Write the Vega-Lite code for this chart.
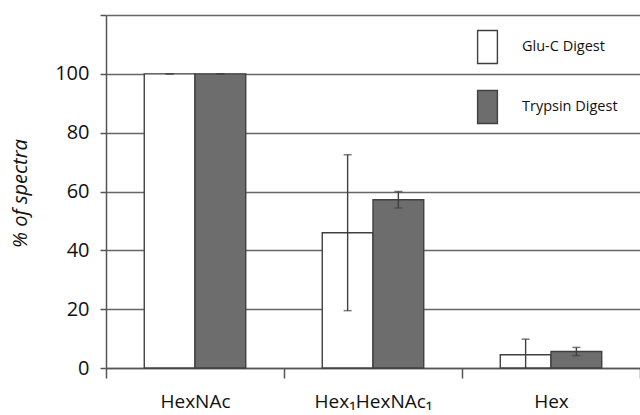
{
  "$schema": "https://vega.github.io/schema/vega-lite/v6.json",
  "autosize": {"type": "none"},
  "padding": {"left": 106, "top": 15, "right": 0, "bottom": 47},
  "width": 534,
  "height": 353,
  "background": "white",
  "data": {
    "values": [
      {"category": "HexNAc", "digest": "Glu-C Digest", "pct": 100, "lo": 100, "hi": 100},
      {"category": "HexNAc", "digest": "Trypsin Digest", "pct": 100, "lo": 100, "hi": 100},
      {"category": "Hex₁HexNAc₁", "digest": "Glu-C Digest", "pct": 46, "lo": 19.5, "hi": 72.5},
      {"category": "Hex₁HexNAc₁", "digest": "Trypsin Digest", "pct": 57.2, "lo": 54.4, "hi": 60},
      {"category": "Hex", "digest": "Glu-C Digest", "pct": 4.5, "lo": -0.8, "hi": 9.8},
      {"category": "Hex", "digest": "Trypsin Digest", "pct": 5.6, "lo": 4.2, "hi": 7}
    ]
  },
  "encoding": {
    "x": {
      "field": "category",
      "type": "nominal",
      "sort": ["HexNAc", "Hex₁HexNAc₁", "Hex"],
      "scale": {"paddingInner": 0, "paddingOuter": 0},
      "axis": {
        "title": null,
        "labelAngle": 0,
        "tickBand": "extent",
        "tickSize": 10,
        "labelPadding": 14,
        "labelFontSize": 19,
        "domainColor": "#555555",
        "domainWidth": 1.5,
        "tickColor": "#555555",
        "tickWidth": 1.5
      }
    },
    "xOffset": {
      "field": "digest",
      "type": "nominal",
      "scale": {"paddingInner": 0, "paddingOuter": 0.754}
    }
  },
  "layer": [
    {
      "mark": {"type": "bar", "stroke": "#404040", "strokeWidth": 1.4},
      "encoding": {
        "y": {
          "field": "pct",
          "type": "quantitative",
          "scale": {"domain": [0, 120], "nice": false},
          "axis": {
            "title": "% of spectra",
            "values": [0, 20, 40, 60, 80, 100, 120],
            "labelExpr": "datum.value == 120 ? '' : datum.label",
            "grid": true,
            "gridColor": "#666666",
            "gridWidth": 1.5,
            "tickSize": 6,
            "tickColor": "#555555",
            "tickWidth": 1.5,
            "domainColor": "#555555",
            "domainWidth": 1.5,
            "labelFontSize": 20,
            "labelPadding": 11,
            "titleFontSize": 20,
            "titleFontStyle": "italic",
            "titleFontWeight": "normal",
            "titleAngle": -90,
            "titleAlign": "center",
            "titleBaseline": "middle",
            "titleX": -86,
            "titleY": 178
          }
        },
        "fill": {
          "field": "digest",
          "type": "nominal",
          "scale": {"domain": ["Glu-C Digest", "Trypsin Digest"], "range": ["#ffffff", "#6d6d6d"]},
          "legend": {
            "title": null,
            "orient": "none",
            "legendX": 364,
            "legendY": 14.5,
            "padding": 0,
            "rowPadding": 21,
            "symbolType": "M-0.6,-1H0.6V1H-0.6Z",
            "symbolSize": 1089,
            "symbolStrokeColor": "#404040",
            "symbolStrokeWidth": 1.4,
            "labelOffset": 17,
            "labelFontSize": 14.5
          }
        }
      }
    },
    {
      "mark": {"type": "rule", "color": "#404040", "strokeWidth": 1.4, "clip": true},
      "encoding": {
        "y": {"field": "lo", "type": "quantitative"},
        "y2": {"field": "hi"}
      }
    },
    {
      "mark": {"type": "tick", "color": "#404040", "size": 8, "thickness": 1.5, "clip": true},
      "encoding": {"y": {"field": "lo", "type": "quantitative"}}
    },
    {
      "mark": {"type": "tick", "color": "#404040", "size": 8, "thickness": 1.5, "clip": true},
      "encoding": {"y": {"field": "hi", "type": "quantitative"}}
    }
  ],
  "config": {
    "font": "Open Sans",
    "view": {"stroke": null},
    "axis": {"labelColor": "#111111", "titleColor": "#111111"},
    "legend": {"labelColor": "#111111"}
  }
}
